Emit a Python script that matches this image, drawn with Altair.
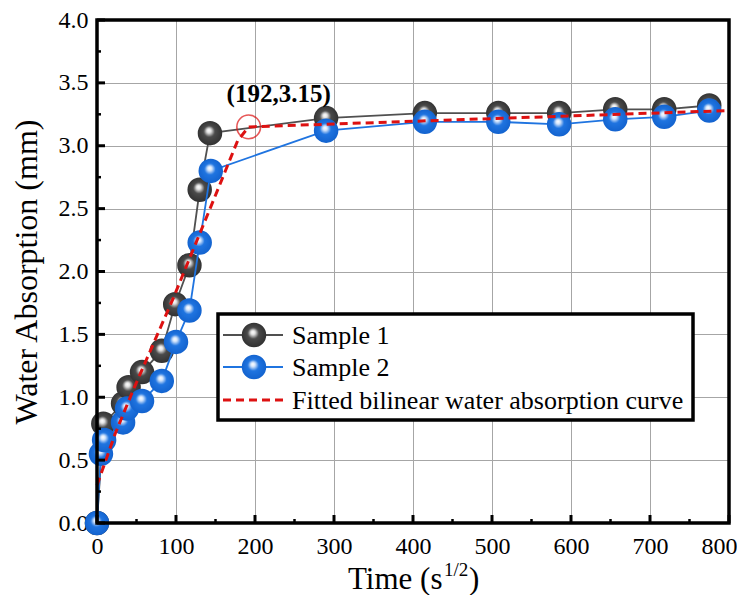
import altair as alt
import pandas as pd

# ---------------- data ----------------
s1_x = [0, 8, 33, 40, 57, 82, 99, 117, 130, 143, 290, 415, 508, 585, 656, 718, 775]
s1_y = [0.0, 0.79, 0.95, 1.08, 1.20, 1.37, 1.74, 2.05, 2.65, 3.10, 3.22, 3.26, 3.26, 3.26, 3.29, 3.29, 3.32]

s2_x = [0, 5, 9, 33, 38, 57, 82, 100, 117, 130, 144, 290, 415, 508, 585, 656, 718, 775]
s2_y = [0.0, 0.55, 0.66, 0.80, 0.91, 0.97, 1.13, 1.44, 1.69, 2.23, 2.80, 3.12, 3.19, 3.19, 3.17, 3.21, 3.23, 3.28]

fit_x = [0, 23, 46, 96, 147, 178, 192, 800]
fit_y = [0.30, 0.71, 1.06, 1.78, 2.56, 3.04, 3.15, 3.28]

key_x = [192]
key_y = [3.15]
key_label = ["(192,3.15)"]
label_x = [230]
label_y = [3.41]

x_ticks = list(range(0, 801, 50))
y_ticks = [i * 0.25 for i in range(0, 17)]
legend_labels = ["Sample 1", "Sample 2", "Fitted bilinear water absorption curve"]

W, H = 632, 503
FONT = "Liberation Serif"
GRAY = "#4a4a4a"
BLUE = "#1f74e0"
RED = "#dd1111"

df1 = pd.DataFrame({"x": s1_x, "y": s1_y})
df2 = pd.DataFrame({"x": s2_x, "y": s2_y})
dff = pd.DataFrame({"x": fit_x, "y": fit_y})
dfk = pd.DataFrame({"x": key_x, "y": key_y})
dfl = pd.DataFrame({"x": label_x, "y": label_y, "t": key_label})
dxt = pd.DataFrame({"v": x_ticks, "major": [v % 100 == 0 for v in x_ticks]})
dyt = pd.DataFrame({"v": y_ticks, "major": [abs(v * 2 - round(v * 2)) < 1e-9 for v in y_ticks]})


def sphere(base, dark):
    return {
        "gradient": "radial",
        "x1": 0.45, "y1": 0.38, "r1": 0.0,
        "x2": 0.5, "y2": 0.5, "r2": 0.55,
        "stops": [
            {"offset": 0.0, "color": "#ffffff"},
            {"offset": 0.16, "color": "#e4e4e4" if base == GRAY else "#d6e6fb"},
            {"offset": 0.42, "color": base},
            {"offset": 1.0, "color": dark},
        ],
    }


SPH = 600

xs = alt.Scale(domain=[0, 800], nice=False)
ys = alt.Scale(domain=[0, 4], nice=False)

grid_cond_color = {"condition": {"test": "datum.value % 100 === 0", "value": "#a6a6a6"}, "value": "#d0d0d0"}
grid_cond_dash = {"condition": {"test": "datum.value % 100 === 0", "value": []}, "value": [3, 3]}

xaxis = alt.Axis(
    values=x_ticks, grid=True, gridColor=grid_cond_color, gridDash=grid_cond_dash,
    gridWidth=1, ticks=False, domain=False, labelFlush=False,
    labelOffset={"condition": {"test": "datum.value === 800", "value": -10}, "value": 0},
    labelExpr="datum.value % 100 === 0 ? datum.label : ''",
    labelFont=FONT, labelFontSize=24, labelColor="black", labelPadding=11,
    title=None,
)
ygrid_color = {"condition": {"test": "abs(datum.value*2 - round(datum.value*2)) < 0.001", "value": "#a6a6a6"}, "value": "#d0d0d0"}
ygrid_dash = {"condition": {"test": "abs(datum.value*2 - round(datum.value*2)) < 0.001", "value": []}, "value": [3, 3]}
yaxis = alt.Axis(
    values=y_ticks, grid=True, gridColor=ygrid_color, gridDash=ygrid_dash,
    gridWidth=1, ticks=False, domain=False, format=".1f", labelFlush=False,
    labelExpr="abs(datum.value*2 - round(datum.value*2)) < 0.001 ? datum.label : ''",
    labelFont=FONT, labelFontSize=24, labelColor="black", labelPadding=9,
    title="Water Absorption (mm)", titleFont=FONT, titleFontSize=32,
    titleFontWeight="normal", titleColor="black", titlePadding=15,
)

base_grid = alt.Chart(df1).mark_point(opacity=0).encode(
    x=alt.X("x:Q", scale=xs, axis=xaxis),
    y=alt.Y("y:Q", scale=ys, axis=yaxis),
)

line1 = alt.Chart(df1).mark_line(color="#505050", strokeWidth=1.8).encode(
    x=alt.X("x:Q", scale=xs), y=alt.Y("y:Q", scale=ys))
pts1 = alt.Chart(df1).mark_point(filled=True, size=SPH, shape="circle", fill=sphere(GRAY, "#2e2e2e"), opacity=1, strokeWidth=0).encode(
    x=alt.X("x:Q", scale=xs), y=alt.Y("y:Q", scale=ys))
line2 = alt.Chart(df2).mark_line(color=BLUE, strokeWidth=1.8).encode(
    x=alt.X("x:Q", scale=xs), y=alt.Y("y:Q", scale=ys))
pts2 = alt.Chart(df2).mark_point(filled=True, size=SPH, shape="circle", fill=sphere(BLUE, "#1160cc"), opacity=1, strokeWidth=0).encode(
    x=alt.X("x:Q", scale=xs), y=alt.Y("y:Q", scale=ys))
fit = alt.Chart(dff).mark_line(color=RED, strokeWidth=3, strokeDash=[8, 5]).encode(
    x=alt.X("x:Q", scale=xs), y=alt.Y("y:Q", scale=ys))
keypt = alt.Chart(dfk).mark_point(shape="circle", size=560, color=RED, strokeWidth=1.6, filled=False).encode(
    x=alt.X("x:Q", scale=xs), y=alt.Y("y:Q", scale=ys))
keytxt = alt.Chart(dfl).mark_text(font=FONT, fontSize=25, fontWeight="bold", color="black").encode(
    x=alt.X("x:Q", scale=xs), y=alt.Y("y:Q", scale=ys), text="t:N")

# inward ticks
xt_major = alt.Chart(dxt[dxt.major]).mark_rule(color="black", strokeWidth=3).encode(
    x=alt.X("v:Q", scale=xs), y=alt.value(H), y2=alt.value(H - 8))
xt_minor = alt.Chart(dxt[~dxt.major]).mark_rule(color="black", strokeWidth=2.5).encode(
    x=alt.X("v:Q", scale=xs), y=alt.value(H), y2=alt.value(H - 4))
yt_major = alt.Chart(dyt[dyt.major]).mark_rule(color="black", strokeWidth=3).encode(
    y=alt.Y("v:Q", scale=ys), x=alt.value(0), x2=alt.value(8))
yt_minor = alt.Chart(dyt[~dyt.major]).mark_rule(color="black", strokeWidth=2.5).encode(
    y=alt.Y("v:Q", scale=ys), x=alt.value(0), x2=alt.value(4))

frame = alt.Chart(pd.DataFrame({"a": [0]})).mark_rect(fill=None, stroke="black", strokeWidth=3.5).encode(
    x=alt.value(0), x2=alt.value(W), y=alt.value(0), y2=alt.value(H))

# x-axis title with superscript
one = pd.DataFrame({"a": [0]})
tx0 = 251
t_a = alt.Chart(one).mark_text(text="Time (s", font=FONT, fontSize=31, align="left", baseline="alphabetic", color="black").encode(
    x=alt.value(tx0), y=alt.value(H + 66))
t_b = alt.Chart(one).mark_text(text="1/2", font=FONT, fontSize=19, align="left", baseline="alphabetic", color="black").encode(
    x=alt.value(tx0 + 96), y=alt.value(H + 53))
t_c = alt.Chart(one).mark_text(text=")", font=FONT, fontSize=31, align="left", baseline="alphabetic", color="black").encode(
    x=alt.value(tx0 + 121), y=alt.value(H + 66))

# legend
LX0, LY0, LX1, LY1 = 121, 294, 596, 400
rows = [315, 347, 380]
leg_box = alt.Chart(one).mark_rect(fill="white", stroke="black", strokeWidth=3.5).encode(
    x=alt.value(LX0), x2=alt.value(LX1), y=alt.value(LY0), y2=alt.value(LY1))
leg_l1 = alt.Chart(one).mark_rule(color="#505050", strokeWidth=1.8).encode(
    x=alt.value(126), x2=alt.value(186), y=alt.value(rows[0]))
leg_p1 = alt.Chart(one).mark_point(filled=True, size=SPH, shape="circle", fill=sphere(GRAY, "#2e2e2e"), opacity=1, strokeWidth=0).encode(
    x=alt.value(157), y=alt.value(rows[0]))
leg_l2 = alt.Chart(one).mark_rule(color=BLUE, strokeWidth=1.8).encode(
    x=alt.value(126), x2=alt.value(186), y=alt.value(rows[1]))
leg_p2 = alt.Chart(one).mark_point(filled=True, size=SPH, shape="circle", fill=sphere(BLUE, "#1160cc"), opacity=1, strokeWidth=0).encode(
    x=alt.value(157), y=alt.value(rows[1]))
leg_l3 = alt.Chart(one).mark_rule(color=RED, strokeWidth=3, strokeDash=[8, 5]).encode(
    x=alt.value(126), x2=alt.value(186), y=alt.value(rows[2]))
leg_texts = []
for i, lab in enumerate(legend_labels):
    leg_texts.append(
        alt.Chart(pd.DataFrame({"t": [lab]})).mark_text(font=FONT, fontSize=26, align="left", baseline="middle", color="black").encode(
            x=alt.value(195), y=alt.value(rows[i] + 1), text="t:N"))

chart = alt.layer(
    base_grid, line1, pts1, line2, pts2, fit, keypt, keytxt,
    xt_major, xt_minor, yt_major, yt_minor,
    leg_box, leg_l1, leg_p1, leg_l2, leg_p2, leg_l3, *leg_texts,
    frame, t_a, t_b, t_c,
).properties(
    width=W, height=H,
    autosize=alt.AutoSizeParams(type="none"),
    padding={"left": 89, "top": 12, "right": 8, "bottom": 72},
    background="white",
).configure_view(stroke=None)

chart.save("out.html", embed_options={"renderer": "svg", "actions": False})
